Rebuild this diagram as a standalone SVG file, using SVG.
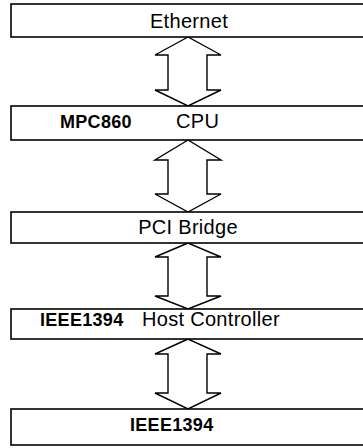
<svg xmlns="http://www.w3.org/2000/svg" width="363" height="448" viewBox="0 0 363 448">
<style>
.box{fill:#fff;stroke:#000;stroke-width:1.6}
.arr{fill:#fff;stroke:#000;stroke-width:1.4;stroke-linejoin:miter}
.t{font-family:"Liberation Sans",Arial,sans-serif;font-size:20px;fill:#000;letter-spacing:0.3px}
.b{font-weight:bold;font-size:18px}
</style>
<rect width="363" height="448" fill="#fff"/>
<g id="connectors">
<polygon class="arr" points="188,37 155,55 168,55 168,90 155,90 188,106 221,90 207,90 207,55 221,55"/>
<polygon class="arr" points="188,140 155,160 168,160 168,194 155,194 188,212 221,194 207,194 207,160 221,160"/>
<polygon class="arr" points="188,243 155,257 168,257 168,296 155,296 188,309 221,296 207,296 207,257 221,257"/>
<polygon class="arr" points="188,339 155,354 168,354 168,393 155,393 188,409 221,393 207,393 207,354 221,354"/>
</g>
<g id="ethernet">
<rect class="box" x="11" y="4" width="356" height="33"/>
<text class="t" x="189" y="28" text-anchor="middle">Ethernet</text>
</g>
<g id="cpu">
<rect class="box" x="11" y="106" width="356" height="34"/>
<text class="t b" x="60" y="128">MPC860</text>
<text class="t" x="176" y="128">CPU</text>
</g>
<g id="pci">
<rect class="box" x="11" y="212" width="356" height="31"/>
<text class="t" x="188" y="234" text-anchor="middle">PCI Bridge</text>
</g>
<g id="hostctrl">
<rect class="box" x="11" y="309" width="356" height="30"/>
<text class="t b" x="40" y="326">IEEE1394</text>
<text class="t" x="142" y="326">Host Controller</text>
</g>
<g id="ieee1394">
<rect class="box" x="11" y="409" width="356" height="36"/>
<text class="t b" x="130" y="431">IEEE1394</text>
</g>
</svg>
